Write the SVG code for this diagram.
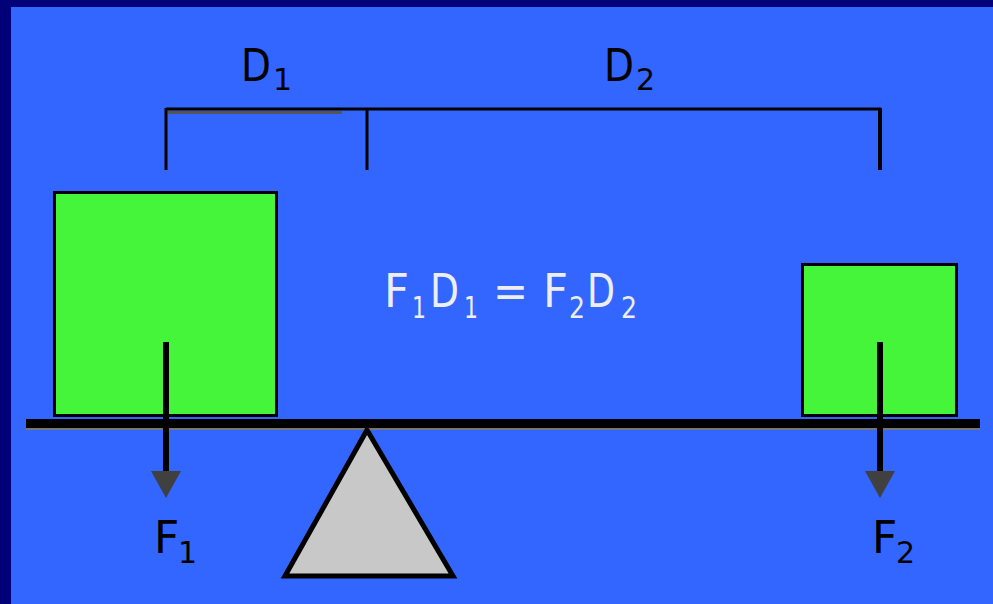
<svg xmlns="http://www.w3.org/2000/svg" width="993" height="604" viewBox="0 0 993 604">
<style>
.lbl{font-family:"DejaVu Sans","Liberation Sans",sans-serif;fill:#000;}
.eq{font-family:"DejaVu Sans","Liberation Sans",sans-serif;fill:#EEEEEE;font-size:46px;}
.sub{font-size:30px;}
.box{fill:#44F53A;stroke:#000;stroke-width:3;}
.ln{stroke:#000;fill:none;}
</style>
<rect x="0" y="0" width="993" height="604" fill="#000078"/>
<rect x="11" y="7" width="982" height="597" fill="#3366FF"/>
<g id="bracket">
<line x1="166" y1="109" x2="881" y2="109" class="ln" stroke-width="3"/>
<line x1="168" y1="112.5" x2="342" y2="112.5" stroke="#555" stroke-width="3"/>
<line x1="166" y1="108" x2="166" y2="170" class="ln" stroke-width="3"/>
<line x1="367" y1="108" x2="367" y2="170" class="ln" stroke-width="3"/>
<line x1="880" y1="108" x2="880" y2="170" class="ln" stroke-width="4"/>
</g>
<g id="D1"><text class="lbl" x="241" y="81" font-size="44" textLength="30" lengthAdjust="spacingAndGlyphs">D</text><text class="lbl" x="273" y="90" font-size="30">1</text></g>
<g id="D2"><text class="lbl" x="604" y="81" font-size="44" textLength="30" lengthAdjust="spacingAndGlyphs">D</text><text class="lbl" x="636" y="90" font-size="30">2</text></g>
<g id="box1"><rect class="box" x="54.5" y="192.5" width="222" height="223"/></g>
<g id="box2"><rect class="box" x="802.5" y="264.5" width="154" height="151"/></g>
<g id="beam"><rect x="26" y="419" width="954" height="9" fill="#000"/><rect x="26" y="428" width="954" height="2" fill="#777"/></g>
<g id="fulcrum"><polygon points="367,430 285,576 453,576" fill="#C8C8C8" stroke="#000" stroke-width="5" stroke-linejoin="miter"/></g>
<g id="connectors">
<line x1="166" y1="342" x2="166" y2="476" stroke="#000" stroke-width="6"/>
<polygon points="151,471 181,471 166,498" fill="#404040"/>
<line x1="880" y1="342" x2="880" y2="476" stroke="#000" stroke-width="6"/>
<polygon points="865,471 895,471 880,498" fill="#404040"/>
</g>
<g id="F1"><text class="lbl" x="154" y="553" font-size="44">F</text><text class="lbl" x="178" y="563" font-size="30">1</text></g>
<g id="F2"><text class="lbl" x="872" y="553" font-size="44">F</text><text class="lbl" x="896" y="563" font-size="30">2</text></g>
<g id="equation">
<text class="eq" x="384" y="307" textLength="25" lengthAdjust="spacingAndGlyphs">F</text>
<text class="eq sub" x="412" y="318" textLength="14" lengthAdjust="spacingAndGlyphs">1</text>
<text class="eq" x="430" y="307" textLength="29" lengthAdjust="spacingAndGlyphs">D</text>
<text class="eq sub" x="464" y="318" textLength="14" lengthAdjust="spacingAndGlyphs">1</text>
<text class="eq" x="493" y="307" textLength="35" lengthAdjust="spacingAndGlyphs">=</text>
<text class="eq" x="543" y="307" textLength="25" lengthAdjust="spacingAndGlyphs">F</text>
<text class="eq sub" x="569" y="318" textLength="16" lengthAdjust="spacingAndGlyphs">2</text>
<text class="eq" x="587" y="307" textLength="28" lengthAdjust="spacingAndGlyphs">D</text>
<text class="eq sub" x="621" y="318" textLength="16" lengthAdjust="spacingAndGlyphs">2</text>
</g>
</svg>
